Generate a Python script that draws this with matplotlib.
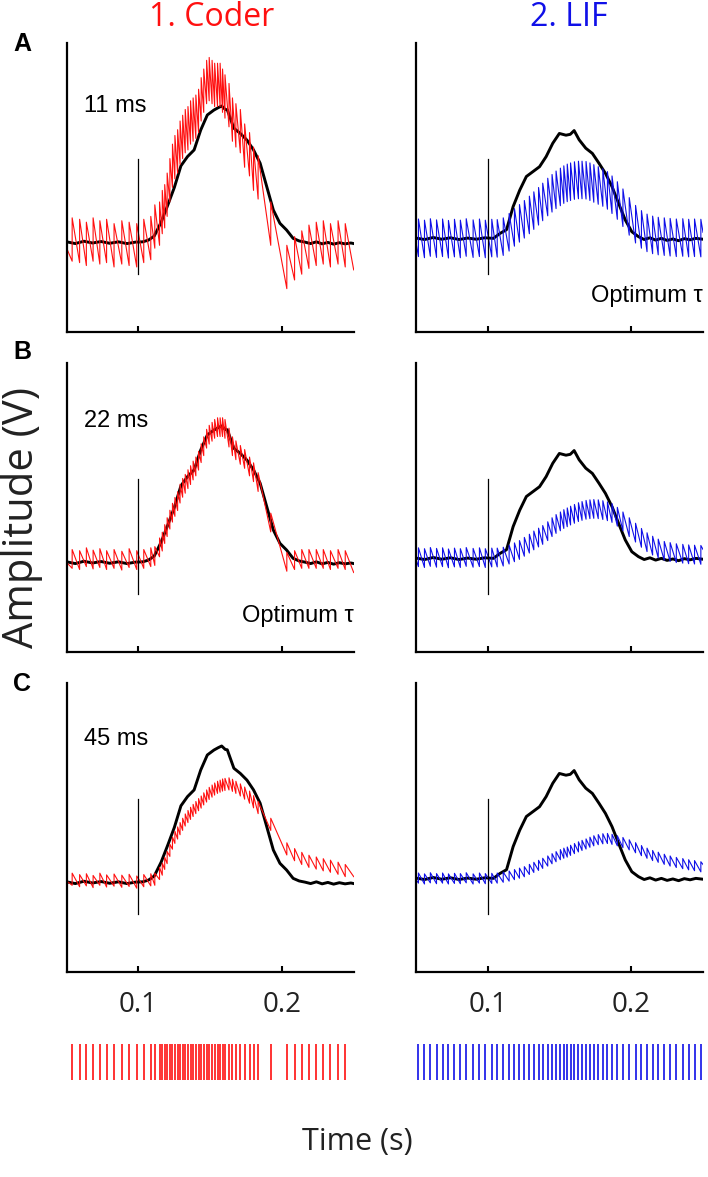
import numpy as np
import matplotlib.pyplot as plt

# ---- data (amplitude in axis-height units, time in s) ----
# target signal (black), left column (coder) and right column (LIF)
t_black_left = [0.050, 0.056, 0.062, 0.068, 0.074, 0.080, 0.086, 0.092, 0.098, 0.103,
                0.107, 0.111, 0.1158, 0.1205, 0.125, 0.1296, 0.1342, 0.1388, 0.1434, 0.148,
                0.1526, 0.1555, 0.158, 0.1605, 0.1619, 0.1665, 0.171, 0.1756, 0.1802, 0.1848,
                0.1894, 0.194, 0.1986, 0.2032, 0.2078, 0.212, 0.216, 0.220, 0.224, 0.228,
                0.232, 0.236, 0.240, 0.244, 0.248, 0.250]
v_black_left = [0.312, 0.306, 0.314, 0.308, 0.313, 0.307, 0.312, 0.306, 0.311, 0.312,
                0.318, 0.332, 0.380, 0.440, 0.500, 0.575, 0.607, 0.630, 0.699, 0.751,
                0.768, 0.776, 0.782, 0.770, 0.769, 0.705, 0.687, 0.664, 0.630, 0.584,
                0.503, 0.422, 0.376, 0.353, 0.324, 0.315, 0.311, 0.306, 0.312, 0.305,
                0.310, 0.304, 0.309, 0.305, 0.308, 0.306]

t_black_right = [0.050, 0.056, 0.062, 0.068, 0.074, 0.080, 0.086, 0.092, 0.098, 0.104,
                 0.1085, 0.1131, 0.1177, 0.1223, 0.1269, 0.1315, 0.1361, 0.1407, 0.1453, 0.1499,
                 0.1545, 0.1575, 0.1602, 0.1637, 0.1683, 0.1729, 0.1775, 0.182, 0.1866, 0.1912,
                 0.1958, 0.2004, 0.205, 0.209, 0.213, 0.217, 0.221, 0.225, 0.229, 0.233,
                 0.237, 0.241, 0.245, 0.250]
v_black_right = [0.325, 0.320, 0.327, 0.321, 0.326, 0.320, 0.325, 0.321, 0.326, 0.324,
                 0.341, 0.354, 0.434, 0.491, 0.538, 0.555, 0.572, 0.607, 0.653, 0.687,
                 0.681, 0.684, 0.697, 0.665, 0.636, 0.618, 0.584, 0.549, 0.503, 0.445,
                 0.388, 0.347, 0.330, 0.320, 0.326, 0.318, 0.324, 0.317, 0.322, 0.316,
                 0.323, 0.319, 0.324, 0.321]

# spike trains (raster at bottom)
coder_spikes = [0.0538, 0.0590, 0.0637, 0.0684, 0.0731, 0.0778, 0.0830, 0.0884, 0.0935, 0.0988, 0.1037, 0.1086, 0.1114,
                0.1147, 0.1166, 0.1183, 0.1200, 0.1219, 0.1237, 0.1254, 0.1273, 0.1290, 0.1308, 0.1326, 0.1345, 0.1363,
                0.1381, 0.1400, 0.1419, 0.1437, 0.1455, 0.1475, 0.1493, 0.1513, 0.1531, 0.1551, 0.1569, 0.1586, 0.1603,
                0.1631, 0.1655, 0.1679, 0.1710, 0.1740, 0.1774, 0.1802, 0.1834, 0.1922, 0.2034, 0.2088, 0.2138, 0.2188,
                0.2239, 0.2288, 0.2338, 0.2391, 0.2441]
lif_spikes = [0.0517, 0.0559, 0.0600, 0.0643, 0.0685, 0.0726, 0.0768, 0.0809, 0.0850, 0.0898, 0.0942, 0.0983, 0.1028, 0.1066,
              0.1108, 0.1149, 0.1186, 0.1221, 0.1255, 0.1290, 0.1321, 0.1354, 0.1383, 0.1418, 0.1448, 0.1476, 0.1506, 0.1530,
              0.1554, 0.1577, 0.1604, 0.1632, 0.1657, 0.1685, 0.1712, 0.1739, 0.1770, 0.1802, 0.1834, 0.1866, 0.1903, 0.1942,
              0.1986, 0.2030, 0.2071, 0.2110, 0.2149, 0.2188, 0.2230, 0.2271, 0.2314, 0.2359, 0.2400, 0.2441, 0.2485]

# decoded output level at each spike (middle of the tooth), rows A, B, C
coder_mid_A = [0.320, 0.315, 0.305, 0.320, 0.310, 0.315, 0.300, 0.310, 0.305, 0.300, 0.315, 0.325,
               0.365,
               0.375, 0.415, 0.435, 0.475, 0.525, 0.575, 0.605, 0.625, 0.655, 0.675, 0.695, 0.705, 0.725,
               0.735, 0.745, 0.765, 0.805, 0.835, 0.865, 0.875, 0.865, 0.855, 0.855, 0.855, 0.835, 0.815,
               0.785, 0.735, 0.715, 0.695, 0.645, 0.615, 0.565, 0.535, 0.375, 0.225, 0.255, 0.275, 0.295,
               0.305, 0.310, 0.300, 0.310, 0.300]
coder_mid_B = [0.322, 0.318, 0.328, 0.320, 0.325, 0.318, 0.322, 0.316, 0.325, 0.318, 0.322, 0.328,
               0.332,
               0.362, 0.382, 0.408, 0.432, 0.458, 0.482, 0.502, 0.522, 0.548, 0.568, 0.582, 0.598, 0.612,
               0.628, 0.642, 0.662, 0.688, 0.712, 0.738, 0.752, 0.762, 0.772, 0.778, 0.778, 0.778, 0.772,
               0.742, 0.712, 0.698, 0.682, 0.668, 0.642, 0.622, 0.588, 0.448, 0.312, 0.318, 0.322, 0.322,
               0.322, 0.322, 0.318, 0.322, 0.318]
coder_mid_C = [0.321, 0.316, 0.319, 0.313, 0.321, 0.315, 0.318, 0.314, 0.317, 0.311, 0.316, 0.319,
               0.321,
               0.341, 0.356, 0.376, 0.396, 0.421, 0.446, 0.466, 0.481, 0.496, 0.511, 0.526, 0.538, 0.549,
               0.559, 0.569, 0.579, 0.588, 0.599, 0.609, 0.618, 0.626, 0.633, 0.639, 0.643, 0.647, 0.649,
               0.651, 0.646, 0.639, 0.630, 0.619, 0.605, 0.589, 0.569, 0.511, 0.426, 0.406, 0.393, 0.383,
               0.377, 0.371, 0.366, 0.359, 0.351]
lif_mid_A = [0.326, 0.322, 0.327, 0.323, 0.326, 0.321, 0.325, 0.322, 0.327, 0.323, 0.326, 0.322, 0.325, 0.324,
             0.330, 0.345, 0.362, 0.376, 0.390, 0.405, 0.420, 0.435, 0.450, 0.467, 0.480, 0.492, 0.502, 0.510,
             0.516, 0.520, 0.524, 0.526, 0.526, 0.525, 0.520, 0.514, 0.507, 0.500, 0.490, 0.475, 0.455, 0.430,
             0.400, 0.373, 0.355, 0.343, 0.336, 0.332, 0.330, 0.328, 0.326, 0.327, 0.325, 0.326, 0.325]
lif_mid_B = [0.328, 0.325, 0.329, 0.326, 0.328, 0.324, 0.327, 0.325, 0.329, 0.326, 0.328, 0.325, 0.327, 0.327,
             0.330, 0.337, 0.345, 0.353, 0.364, 0.375, 0.386, 0.396, 0.405, 0.418, 0.432, 0.443, 0.452, 0.460,
             0.466, 0.472, 0.478, 0.484, 0.488, 0.492, 0.494, 0.495, 0.494, 0.491, 0.487, 0.481, 0.468, 0.452,
             0.432, 0.413, 0.395, 0.380, 0.368, 0.358, 0.350, 0.346, 0.342, 0.340, 0.338, 0.337, 0.336]
lif_mid_C = [0.325, 0.322, 0.326, 0.323, 0.325, 0.322, 0.324, 0.323, 0.326, 0.322, 0.325, 0.323, 0.324, 0.325,
             0.328, 0.332, 0.337, 0.342, 0.347, 0.355, 0.362, 0.369, 0.376, 0.384, 0.392, 0.399, 0.406, 0.411,
             0.415, 0.421, 0.427, 0.433, 0.438, 0.443, 0.449, 0.454, 0.458, 0.461, 0.462, 0.459, 0.454, 0.448,
             0.440, 0.430, 0.420, 0.411, 0.403, 0.397, 0.390, 0.384, 0.379, 0.375, 0.371, 0.368, 0.364]

coder_jump = [0.15, 0.065, 0.042]      # tooth height per row
lif_jump = [0.13, 0.065, 0.035]
coder_start = [0.29, 0.31, 0.315]
coder_end = [0.215, 0.275, 0.33]
lif_start = [0.31, 0.32, 0.32]
lif_end = [0.345, 0.355, 0.372]

tau_labels = ['11 ms', '22 ms', '45 ms']
tau_label_y = [0.762, 0.78, 0.785]
row_letters = ['A', 'B', 'C']
stim_time = 0.1
stim_span = (0.2, 0.6)

RED = '#ff1010'
BLUE = '#1010e8'


def sawtooth(spikes, mid, jump, start, end):
    ts, vs = [0.05], [start]
    for s, m in zip(spikes, mid):
        ts += [s, s]
        vs += [m - jump / 2, m + jump / 2]
    ts.append(0.25)
    vs.append(end)
    return ts, vs


W, H = 708, 1177
fig = plt.figure(figsize=(W / 100, H / 100), dpi=100)

col_x = [66.7 / W, 416 / W]
col_w = 287 / W
row_bot = [1 - 332 / H, 1 - 652 / H, 1 - 972 / H]
row_h = 289 / H

coder_mid = [coder_mid_A, coder_mid_B, coder_mid_C]
lif_mid = [lif_mid_A, lif_mid_B, lif_mid_C]

for r in range(3):
    for c in range(2):
        ax = fig.add_axes([col_x[c], row_bot[r], col_w, row_h])
        if c == 0:
            ax.plot(t_black_left, v_black_left, color='black', lw=2.1)
            ts, vs = sawtooth(coder_spikes, coder_mid[r], coder_jump[r], coder_start[r], coder_end[r])
            ax.plot(ts, vs, color=RED, lw=0.8)
        else:
            ax.plot(t_black_right, v_black_right, color='black', lw=2.1)
            ts, vs = sawtooth(lif_spikes, lif_mid[r], lif_jump[r], lif_start[r], lif_end[r])
            ax.plot(ts, vs, color=BLUE, lw=0.8)
        ax.plot([stim_time, stim_time], stim_span, color='black', lw=0.9)

        ax.set_xlim(0.05, 0.25)
        ax.set_ylim(0, 1)
        for s in ['top', 'right']:
            ax.spines[s].set_visible(False)
        for s in ['left', 'bottom']:
            ax.spines[s].set_linewidth(1.6)
        ax.set_yticks([])
        ax.set_xticks([0.1, 0.2])
        ax.tick_params(axis='x', direction='in', length=4, width=1.5, pad=14)
        if r == 2:
            ax.set_xticklabels(['0.1', '0.2'], fontsize=20, family='Open Sans', color='#222222')
        else:
            ax.set_xticklabels([])

        if c == 0:
            ax.text(0.062, tau_label_y[r], tau_labels[r], transform=ax.transAxes,
                    fontsize=17, family='Liberation Sans', va='baseline', ha='left')
        if (r == 0 and c == 1) or (r == 1 and c == 0):
            ax.text(1.0, 0.105, 'Optimum τ', transform=ax.transAxes,
                    fontsize=17, family='Liberation Sans', va='baseline', ha='right')

# panel letters
letter_y = [44, 352, 684]
for r in range(3):
    fig.text(22 / W, 1 - letter_y[r] / H, row_letters[r], fontsize=18, fontweight='bold',
             family='Liberation Sans', ha='center', va='center')

# column titles
fig.text(212 / W, 1 - 18 / H, '1. Coder', color=RED, fontsize=23, family='Open Sans',
         ha='center', va='center')
fig.text(569 / W, 1 - 18 / H, '2. LIF', color=BLUE, fontsize=23, family='Open Sans',
         ha='center', va='center')

# spike rasters
for c, (spk, col) in enumerate([(coder_spikes, RED), (lif_spikes, BLUE)]):
    rax = fig.add_axes([col_x[c], 1 - 1080 / H, col_w, 36 / H])
    rax.eventplot(spk, colors=col, lineoffsets=0.5, linelengths=1.0, linewidths=1.2)
    rax.set_xlim(0.05, 0.25)
    rax.set_ylim(0, 1)
    rax.axis('off')

fig.text(357 / W, 1 - 1142 / H, 'Time (s)', fontsize=22, family='Open Sans',
         ha='center', va='center', color='#222222')
fig.text(22 / W, 1 - 518 / H, 'Amplitude (V)', fontsize=30, family='Open Sans',
         rotation=90, ha='center', va='center', color='#222222')

fig.savefig('out.png', dpi=100)
